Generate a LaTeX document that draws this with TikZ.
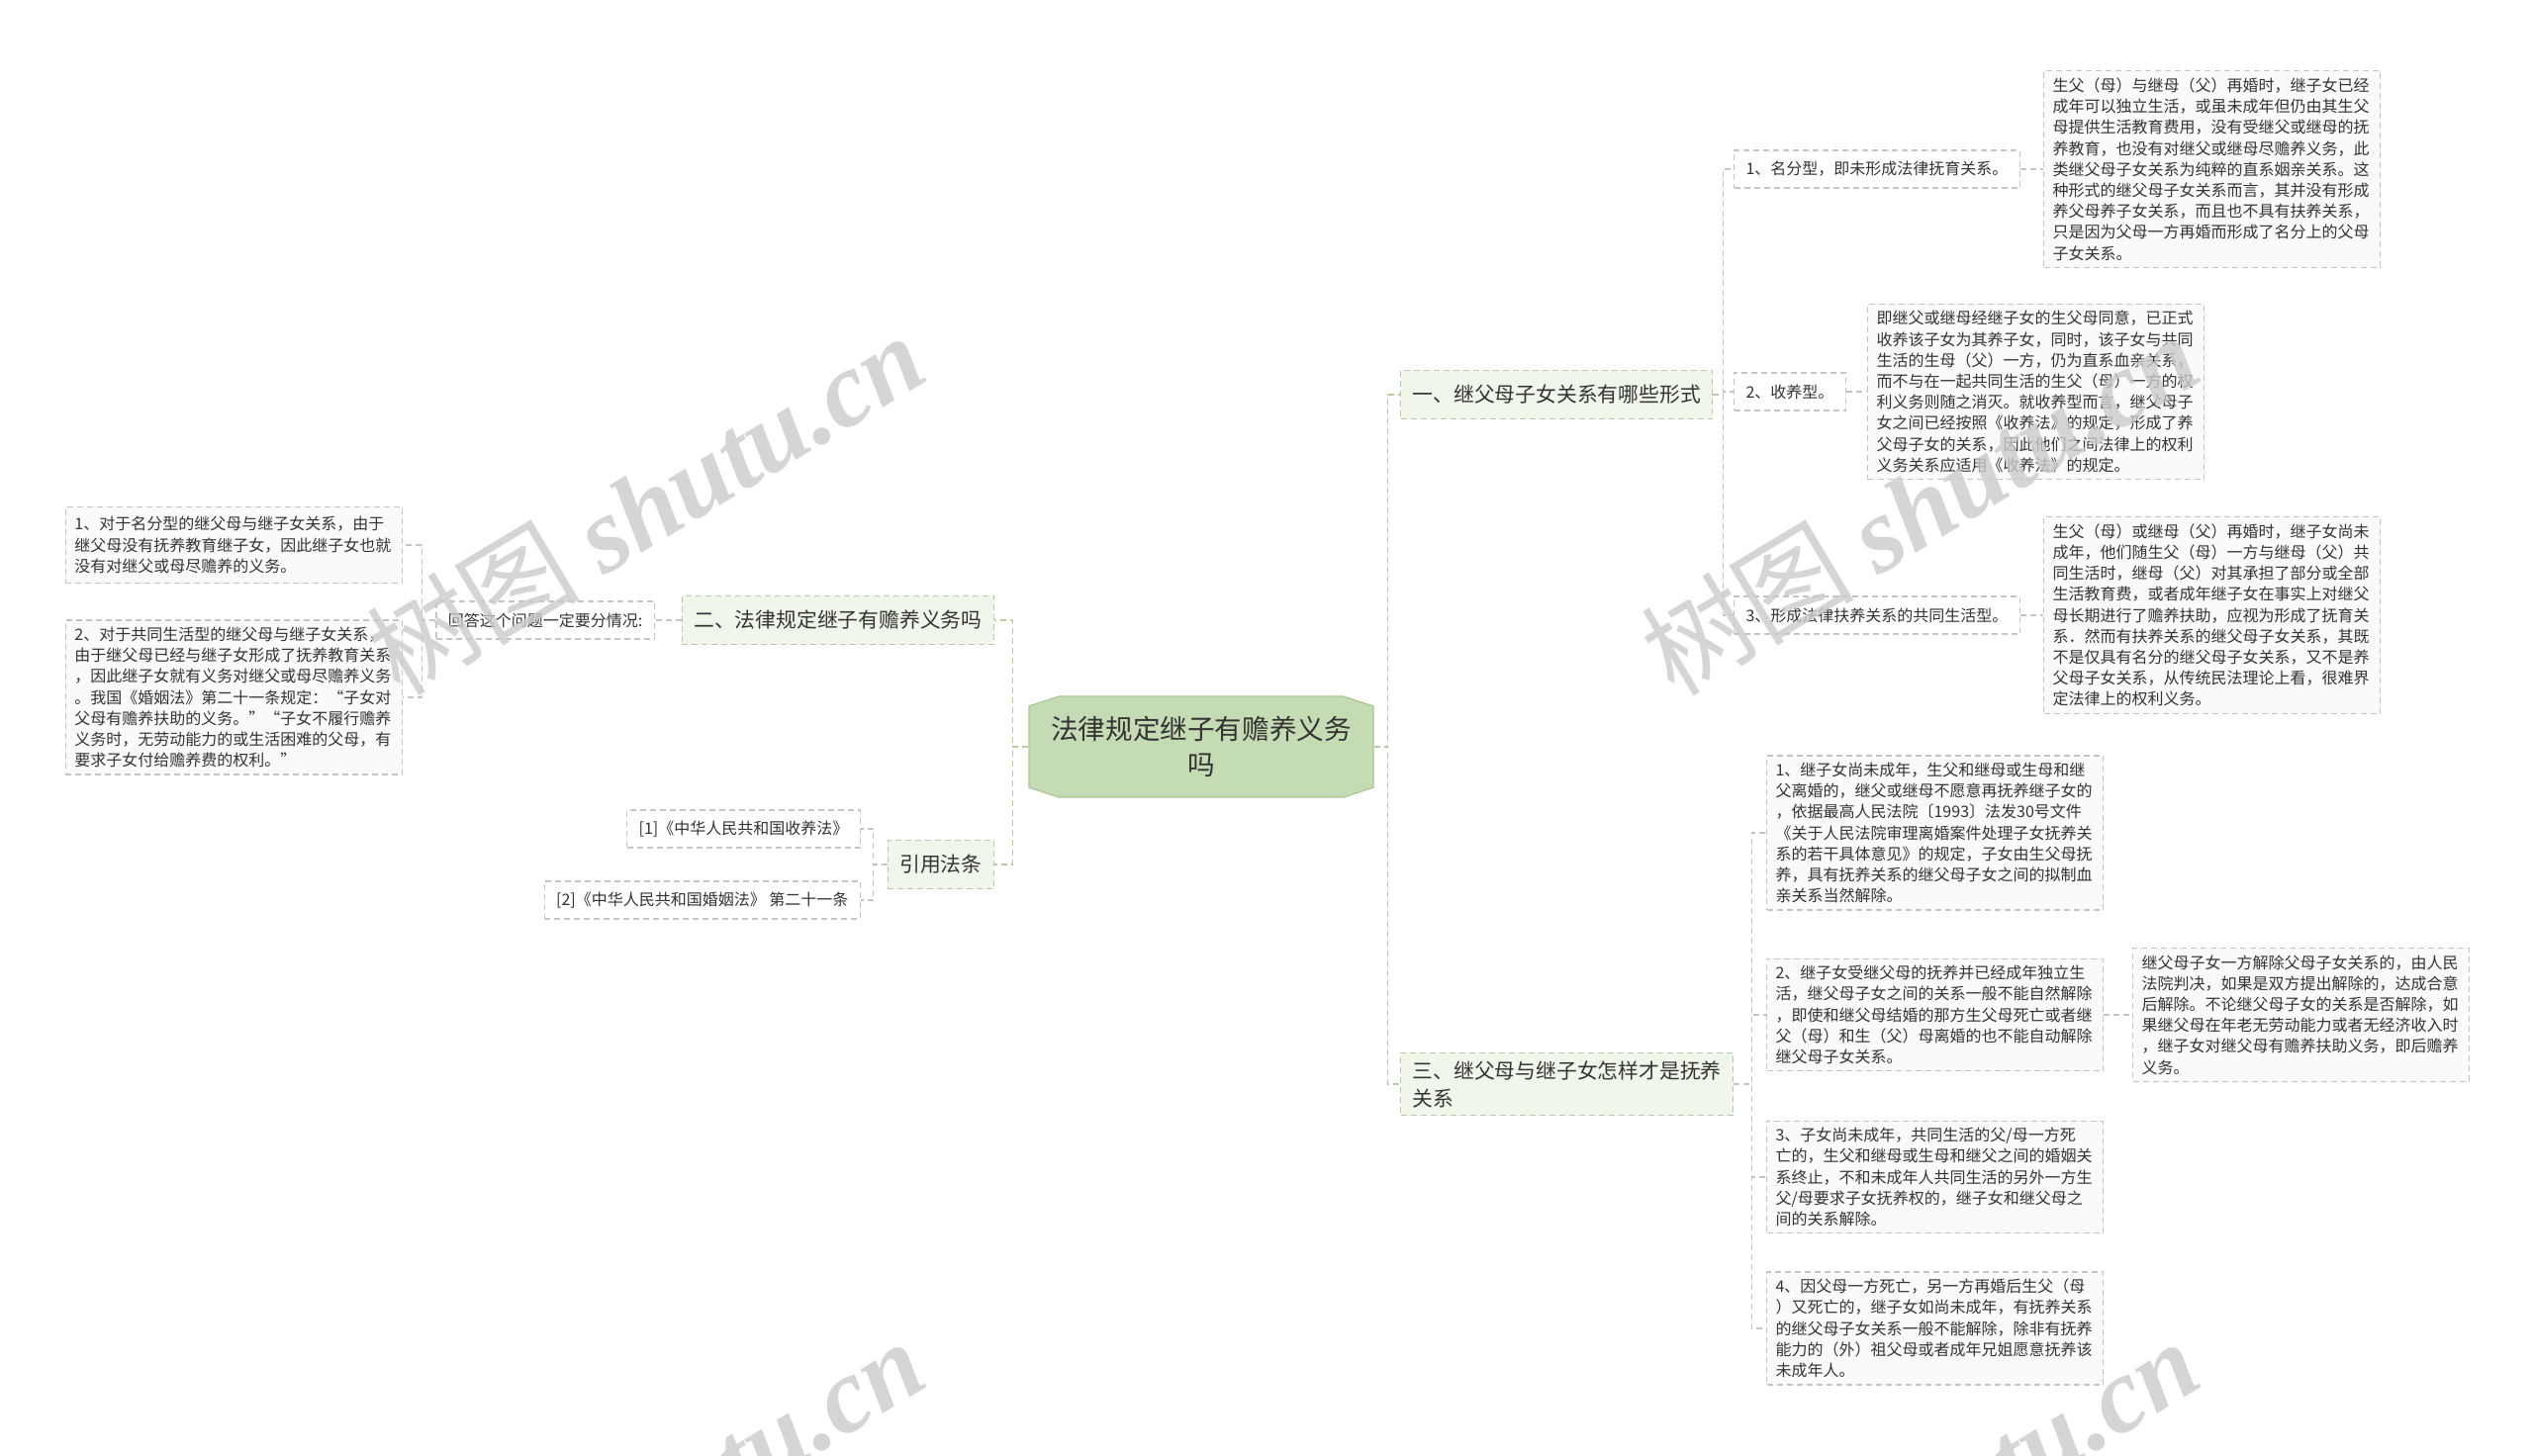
\documentclass[tikz,border=0pt]{standalone}
\usepackage{fontspec}
\setmainfont{Noto Sans CJK SC}
\newfontfamily\marklatin{Liberation Serif}
\usepackage{tikz}
\usetikzlibrary{shapes.misc, positioning, calc}
\definecolor{RootGreen}{HTML}{C5DBB3}
\definecolor{RootEdge}{HTML}{AAC694}
\definecolor{TopicFill}{HTML}{F0F6E9}
\definecolor{TopicEdge}{HTML}{B9C9AB}
\definecolor{LineGray}{HTML}{C4C4C4}
\definecolor{LineGreen}{HTML}{B6CCA3}
\definecolor{InkGray}{HTML}{333333}
\definecolor{MarkGray}{HTML}{CBCBCB}

\begin{document}
\begin{tikzpicture}[x=0.5pt, y=-0.5pt,
    root/.style={chamfered rectangle, chamfered rectangle angle=72,
                 chamfered rectangle xsep=4pt, fill=RootGreen, draw=RootEdge,
                 line width=0.6pt, minimum width=174pt, minimum height=51pt,
                 inner sep=2pt, font=\fontsize{13.8}{18}\selectfont,
                 text=InkGray, align=center},
    topic/.style={rectangle, fill=TopicFill, draw=TopicEdge, line width=0.6pt,
                  dash pattern=on 3pt off 2pt, inner xsep=6pt, inner ysep=4pt,
                  minimum height=24.5pt, font=\fontsize{10.4}{14}\selectfont,
                  text=InkGray, align=left},
    tag/.style={rectangle, fill=white, draw=LineGray, line width=0.6pt,
                dash pattern=on 3pt off 2pt, inner xsep=6pt, minimum height=19pt,
                font=\fontsize{8}{10.6}\selectfont, text=InkGray},
    desc/.style={tag, fill=white!98!black, text width=161pt, align=left,
                 inner xsep=4.5pt, inner ysep=3.5pt},
    conn/.style={draw=LineGray, line width=0.6pt, dash pattern=on 3pt off 2pt},
    trunk/.style={conn, draw=LineGreen},
    watermark/.style={text=MarkGray, opacity=0.8, rotate=31,
                      font=\fontsize{54}{60}\selectfont}
]
    \fill[white] (0,0) rectangle (2560,1472);
    \useasboundingbox (0,0) rectangle (2560,1472);

    % Central question
    \node[root] (root) at (1214,755) {法律规定继子有赡养义务\\吗};

    % Main topics
    \node[topic, anchor=west] (forms) at (1415,399) {一、继父母子女关系有哪些形式};
    \node[topic, anchor=east] (duty) at (1005,627) {二、法律规定继子有赡养义务吗};
    \node[topic, anchor=east] (laws) at (1005,874) {引用法条};
    \node[topic, anchor=west] (raise) at (1415,1096) {三、继父母与继子女怎样才是抚养\\关系};

    % Forms of the relation
    \node[tag, anchor=west] (nominal) at (1752,171) {1、名分型，即未形成法律抚育关系。};
    \node[desc, anchor=west] (nominaltxt) at (2065,171) {生父（母）与继母（父）再婚时，继子女已经\\
        成年可以独立生活，或虽未成年但仍由其生父\\
        母提供生活教育费用，没有受继父或继母的抚\\
        养教育，也没有对继父或继母尽赡养义务，此\\
        类继父母子女关系为纯粹的直系姻亲关系。这\\
        种形式的继父母子女关系而言，其并没有形成\\
        养父母养子女关系，而且也不具有扶养关系，\\
        只是因为父母一方再婚而形成了名分上的父母\\
        子女关系。};
    \node[tag, anchor=west] (adopt) at (1752,396) {2、收养型。};
    \node[desc, anchor=west] (adopttxt) at (1887,396) {即继父或继母经继子女的生父母同意，已正式\\
        收养该子女为其养子女，同时，该子女与共同\\
        生活的生母（父）一方，仍为直系血亲关系，\\
        而不与在一起共同生活的生父（母）一方的权\\
        利义务则随之消灭。就收养型而言，继父母子\\
        女之间已经按照《收养法》的规定，形成了养\\
        父母子女的关系，因此他们之间法律上的权利\\
        义务关系应适用《收养法》的规定。};
    \node[tag, anchor=west] (shared) at (1752,622) {3、形成法律扶养关系的共同生活型。};
    \node[desc, anchor=west] (sharedtxt) at (2065,622) {生父（母）或继母（父）再婚时，继子女尚未\\
        成年，他们随生父（母）一方与继母（父）共\\
        同生活时，继母（父）对其承担了部分或全部\\
        生活教育费，或者成年继子女在事实上对继父\\
        母长期进行了赡养扶助，应视为形成了抚育关\\
        系．然而有扶养关系的继父母子女关系，其既\\
        不是仅具有名分的继父母子女关系，又不是养\\
        父母子女关系，从传统民法理论上看，很难界\\
        定法律上的权利义务。};

    % When the relation ends
    \node[desc, anchor=west] (endone) at (1785,842) {1、继子女尚未成年，生父和继母或生母和继\\
        父离婚的，继父或继母不愿意再抚养继子女的\\
        ，依据最高人民法院〔1993〕法发30号文件\\
        《关于人民法院审理离婚案件处理子女抚养关\\
        系的若干具体意见》的规定，子女由生父母抚\\
        养，具有抚养关系的继父母子女之间的拟制血\\
        亲关系当然解除。};
    \node[desc, anchor=west] (endtwo) at (1785,1026) {2、继子女受继父母的抚养并已经成年独立生\\
        活，继父母子女之间的关系一般不能自然解除\\
        ，即使和继父母结婚的那方生父母死亡或者继\\
        父（母）和生（父）母离婚的也不能自动解除\\
        继父母子女关系。};
    \node[desc, anchor=west] (endtwox) at (2155,1026) {继父母子女一方解除父母子女关系的，由人民\\
        法院判决，如果是双方提出解除的，达成合意\\
        后解除。不论继父母子女的关系是否解除，如\\
        果继父母在年老无劳动能力或者无经济收入时\\
        ，继子女对继父母有赡养扶助义务，即后赡养\\
        义务。};
    \node[desc, anchor=west] (endthree) at (1785,1190) {3、子女尚未成年，共同生活的父/母一方死\\
        亡的，生父和继母或生母和继父之间的婚姻关\\
        系终止，不和未成年人共同生活的另外一方生\\
        父/母要求子女抚养权的，继子女和继父母之\\
        间的关系解除。};
    \node[desc, anchor=west] (endfour) at (1785,1343) {4、因父母一方死亡，另一方再婚后生父（母\\
        ）又死亡的，继子女如尚未成年，有抚养关系\\
        的继父母子女关系一般不能解除，除非有抚养\\
        能力的（外）祖父母或者成年兄姐愿意抚养该\\
        未成年人。};

    % Duty of support
    \node[tag, anchor=east] (answer) at (662,627) {回答这个问题一定要分情况:};
    \node[desc, anchor=east, inner ysep=5pt] (caseone) at (407,551) {1、对于名分型的继父母与继子女关系，由于\\
        继父母没有抚养教育继子女，因此继子女也就\\
        没有对继父或母尽赡养的义务。};
    \node[desc, anchor=east] (casetwo) at (407,705) {2、对于共同生活型的继父母与继子女关系，\\
        由于继父母已经与继子女形成了抚养教育关系\\
        ，因此继子女就有义务对继父或母尽赡养义务\\
        。我国《婚姻法》第二十一条规定：“子女对\\
        父母有赡养扶助的义务。”“子女不履行赡养\\
        义务时，无劳动能力的或生活困难的父母，有\\
        要求子女付给赡养费的权利。”};

    % Cited laws
    \node[tag, anchor=east] (lawone) at (870,838) {[1]《中华人民共和国收养法》};
    \node[tag, anchor=east] (lawtwo) at (870,910) {[2]《中华人民共和国婚姻法》 第二十一条};

    % Connectors
    \draw[trunk] (root.east) -- ++(7pt,0) |- (forms.west);
    \draw[trunk] (root.east) -- ++(7pt,0) |- (raise.west);
    \draw[trunk] (root.west) -- ++(-8pt,0) |- (duty.east);
    \draw[trunk] (root.west) -- ++(-8pt,0) |- (laws.east);

    \draw[conn] (forms.east) -- ++(5pt,0) |- (nominal.west);
    \draw[conn] (forms.east) -- ++(5pt,0) |- (adopt.west);
    \draw[conn] (forms.east) -- ++(5pt,0) |- (shared.west);
    \draw[conn] (nominal.east) -- (nominaltxt.west);
    \draw[conn] (adopt.east) -- (adopttxt.west);
    \draw[conn] (shared.east) -- (sharedtxt.west);

    \foreach \leaf in {endone, endtwo, endthree, endfour}
        \draw[conn] (raise.east) -- ++(9pt,0) |- (\leaf.west);
    \draw[conn] (endtwo.east) -- (endtwox.west);

    \draw[conn] (duty.west) -- (answer.east);
    \draw[conn] (answer.west) -- ++(-7pt,0) |- (caseone.east);
    \draw[conn] (answer.west) -- ++(-7pt,0) |- (casetwo.east);

    \draw[conn] (laws.west) -- ++(-7pt,0) |- (lawone.east);
    \draw[conn] (laws.west) -- ++(-7pt,0) |- (lawtwo.east);

    % Watermarks
    \begin{scope}
        \clip (0,0) rectangle (2560,1472);
        \foreach \mx/\my in {652/509, 1940/509, 652/1526, 1940/1526}
            \node[watermark] at (\mx,\my) {树图 {\marklatin\bfseries\itshape shutu.cn}};
    \end{scope}
\end{tikzpicture}
\end{document}
